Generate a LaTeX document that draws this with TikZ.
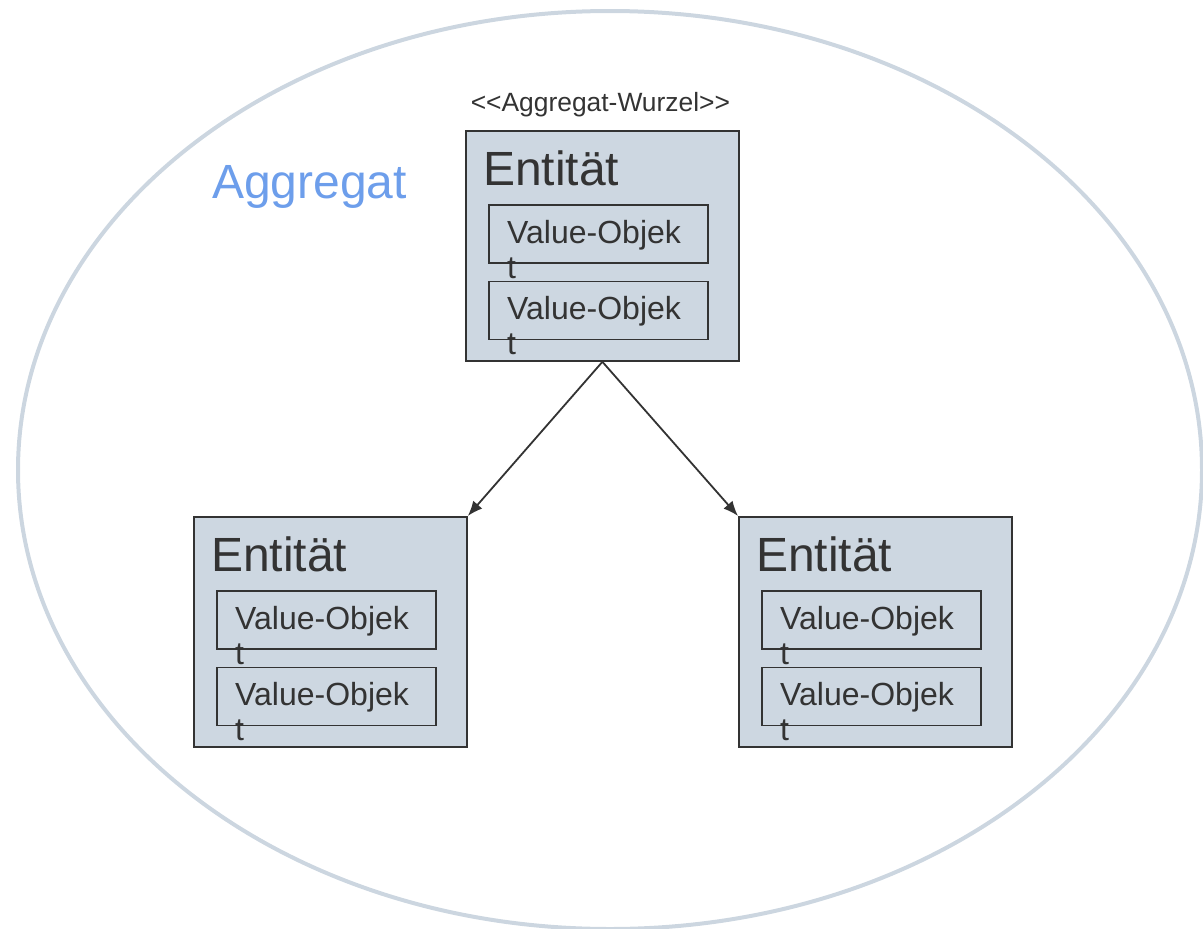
\documentclass[tikz,border=0pt]{standalone}
\usepackage{fontspec}
\setmainfont{Liberation Sans}
\usepackage{tikz}
\usetikzlibrary{arrows.meta, positioning}
\definecolor{agBox}{HTML}{CDD7E1}
\definecolor{agRing}{HTML}{CCD6E0}
\definecolor{agText}{HTML}{333333}
\definecolor{agBlue}{HTML}{6D9EEB}

\begin{document}
\begin{tikzpicture}[
  x=1pt, y=-1pt,
  node distance=17pt and 24pt,
  entity/.style={
    draw=agText,
    line width=1.8pt,
    fill=agBox,
    minimum width=273pt,
    minimum height=230pt,
    anchor=north west,
    inner sep=0pt
  },
  valbox/.style={
    draw=agText,
    line width=1.6pt,
    minimum width=219pt,
    minimum height=58pt,
    inner sep=0pt
  },
  enttext/.style={text=agText, anchor=base west, inner sep=0pt, font=\fontsize{48}{54}\selectfont},
  valtext/.style={text=agText, anchor=base west, inner sep=0pt, align=left, font=\fontsize{32}{35}\selectfont},
  stereo/.style={text=agText, anchor=base, inner sep=0pt, font=\fontsize{26.4}{30}\selectfont},
  arrow/.style={-{Latex[length=15pt,width=12pt]}, line width=1.8pt, draw=agText}
]
\useasboundingbox (0,0) rectangle (1203,929);

% aggregate boundary
\draw[agRing, line width=4pt] (610,470) ellipse [x radius=592, y radius=459];
\node[text=agBlue, anchor=base west, inner sep=0pt, font=\fontsize{48}{56}\selectfont] (agg) at (212,198) {Aggregat};

% entities
\node[entity] (root) at (465,130) {};
\node[entity] (left) at (193,516) {};
\node[entity] (right) at (738,516) {};

\node[stereo] (rootst) at ([xshift=-2pt,yshift=19pt]root.north) {<{}<Aggregat-Wurzel>{}>};

\foreach \e in {root,left,right} {
  \node[enttext] (\e-name) at ([xshift=18pt,yshift=-55pt]\e.north west) {Entität};
  \node[valbox, below right=74pt and 23pt of \e.north west] (\e-v1) {};
  \node[valbox, below=of \e-v1] (\e-v2) {};
  % base anchor sits on the last line, so the first line lands 35pt higher
  \node[valtext] (\e-v1t) at ([xshift=19pt,yshift=-74pt]\e-v1.north west) {Value-Objek\\t};
  \node[valtext] (\e-v2t) at ([xshift=19pt,yshift=-74pt]\e-v2.north west) {Value-Objek\\t};
}

\draw[arrow] (root.south) -- (left.north east);
\draw[arrow] (root.south) -- (right.north west);
\end{tikzpicture}
\end{document}
